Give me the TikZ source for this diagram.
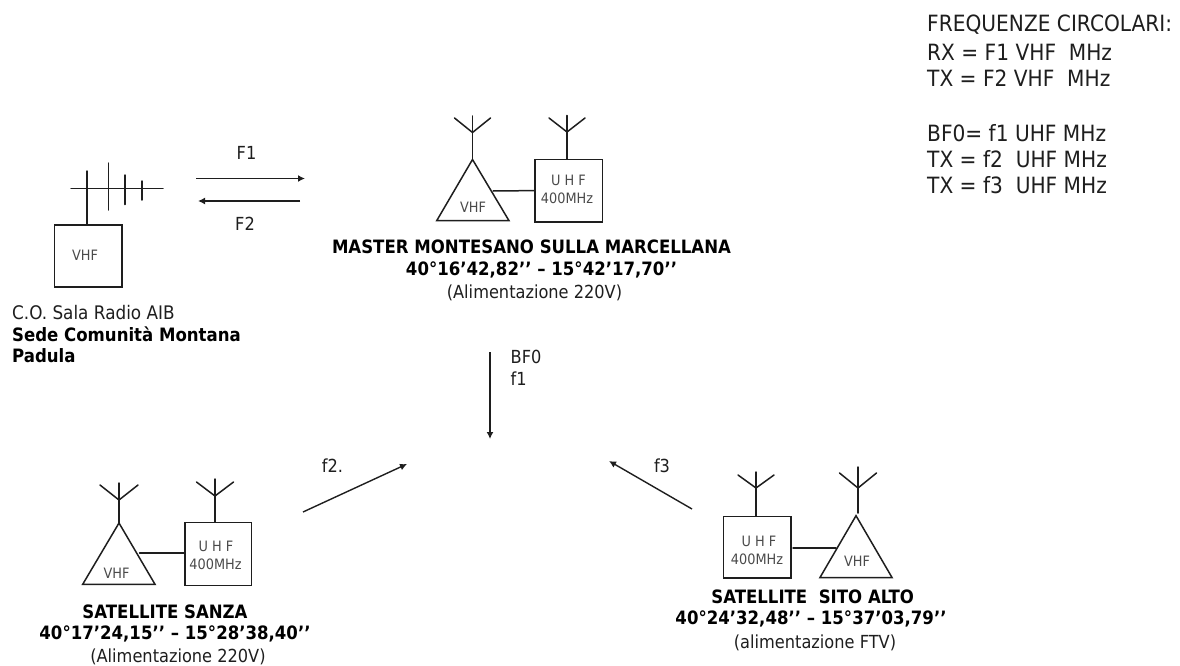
\documentclass[tikz,border=0pt]{standalone}
\usepackage{fontspec}
\setmainfont[FakeStretch=0.9]{DejaVu Sans}
\usetikzlibrary{arrows.meta}
\definecolor{ink}{HTML}{1E1E1E}
\definecolor{small}{HTML}{4A4A4A}
\tikzset{
 x=1pt,y=-1pt,
 wire/.style={draw=ink,line width=1.5pt,line cap=round,line join=miter},
 radiobox/.style={draw=ink,line width=1.5pt,rectangle,inner sep=0pt,anchor=north west},
 flow/.style={draw=ink,line width=1.4pt,-{Latex[length=7pt,width=7pt]}},
 lab/.style={font=\fontsize{18}{20}\selectfont,text=ink,inner sep=0pt},
 sm/.style={font=\fontsize{14.3}{16}\selectfont,text=small,inner sep=0pt},
 ttl/.style={font=\fontsize{18.4}{20}\selectfont\bfseries,text=black,inner sep=0pt},
 note/.style={font=\fontsize{18}{20}\selectfont,text=ink,inner sep=0pt},
 freq/.style={font=\fontsize{22.4}{24}\selectfont,text=ink,inner sep=0pt,anchor=west},
}
\newcommand{\fork}[6]{% name, mastx, top, forky, armx half, armtop
 \coordinate (#1top) at (#2,#3);
 \coordinate (#1fork) at (#2,#4);
 \coordinate (#1l) at (#2-#5,#6);
 \coordinate (#1r) at (#2+#5,#6);
 \draw[wire] (#1l)--(#1fork)--(#1r);
}
\begin{document}
\begin{tikzpicture}
\useasboundingbox (0,0) rectangle (1180,666);
% Sala radio
\node[radiobox,minimum width=67.5pt,minimum height=62pt] (cobox) at (53.5,224) {};
\node[sm] (covhf) at (85,255.5) {VHF};
\coordinate (yagiL) at (71,188.3); \coordinate (yagiR) at (163,188.3);
\coordinate (yagiT) at (87,171);
\draw[wire] (yagiL)--(yagiR);
\draw[wire] (yagiT)--(yagiT|-cobox.north);
\coordinate (e1a) at (108.5,163); \coordinate (e1b) at (108.5,210);
\coordinate (e2a) at (125,175); \coordinate (e2b) at (125,204.5);
\coordinate (e3a) at (142,181); \coordinate (e3b) at (142,200);
\draw[wire] (e1a)--(e1b); \draw[wire] (e2a)--(e2b); \draw[wire] (e3a)--(e3b);
\node[lab,anchor=west,font=\fontsize{18.7}{20}\selectfont] (co1) at (12,312.5) {C.O. Sala Radio AIB};
\node[ttl,anchor=west] (co2) at (12,334) {Sede Comunità Montana};
\node[ttl,anchor=west] (co3) at (12,356) {Padula};
% F1 F2
\coordinate (f1a) at (196,178.5); \coordinate (f1b) at (305,178.5);
\coordinate (f2a) at (300,201); \coordinate (f2b) at (198,201);
\draw[flow] (f1a)--(f1b); \draw[flow] (f2a)--(f2b);
\node[lab] (lf1) at (246.5,153) {F1};
\node[lab] (lf2) at (245,224) {F2};
% Master
\coordinate (mA) at (472.5,159.5); \coordinate (mB) at (509,220.7); \coordinate (mC) at (436.7,220.7);
\draw[wire,line cap=butt] (mA)--(mB)--(mC)--cycle;
\node[sm] (mv) at (473,207) {VHF};
\node[radiobox,minimum width=67.7pt,minimum height=62.3pt] (mbox) at (534,158.7) {};
\node[sm] (mu) at (568.5,180.5) {U H F};
\node[sm] (mm) at (567,198) {400MHz};
\fork{ma}{472.5}{116}{132.5}{18}{118}
\fork{mb}{567}{115.5}{132}{18}{118}
\draw[wire] (mA)--(matop);
\draw[wire] (mbtop)--(mbtop|-mbox.north);
\coordinate (mlink) at (493,191);
\draw[wire] (mlink)--(mbox.west);
\node[ttl] (mt1) at (531.5,247) {MASTER MONTESANO SULLA MARCELLANA};
\node[ttl] (mt2) at (541.5,270) {40°16’42,82’’ – 15°42’17,70’’};
\node[note] (mt3) at (534.5,292.5) {(Alimentazione 220V)};
% Central
\coordinate (da) at (490,352); \coordinate (db) at (490,439);
\draw[flow] (da)--(db);
\node[lab,anchor=west] (bf) at (510.5,357) {BF0};
\node[lab,anchor=west] (lf1b) at (510.5,379) {f1};
\coordinate (sa) at (303,512); \coordinate (sb) at (407,464);
\draw[flow] (sa)--(sb);
\node[lab] (lf2b) at (332.5,466) {f2.};
\coordinate (ta) at (692,509); \coordinate (tb) at (609,461);
\draw[flow] (ta)--(tb);
\node[lab] (lf3) at (662,466) {f3};
% Sanza
\coordinate (sA) at (119,523); \coordinate (sB) at (155,584.3); \coordinate (sC) at (82.7,584.3);
\draw[wire,line cap=butt] (sA)--(sB)--(sC)--cycle;
\node[sm] (sv) at (116.5,573) {VHF};
\node[radiobox,minimum width=66.7pt,minimum height=63pt] (sbox) at (184,521.7) {};
\node[sm] (su) at (216,546.5) {U H F};
\node[sm] (sm) at (215.5,564.5) {400MHz};
\fork{sl}{119}{483}{500}{19}{485}
\fork{sr}{215}{479}{496}{18.5}{482}
\draw[wire] (sA)--(sltop);
\draw[wire] (srtop)--(srtop|-sbox.north);
\coordinate (slink) at (139.5,553);
\draw[wire] (slink)--(slink-|sbox.west);
\node[ttl] (st1) at (165,611.7) {SATELLITE SANZA};
\node[ttl] (st2) at (175,634) {40°17’24,15’’ – 15°28’38,40’’};
\node[note] (st3) at (178,656.5) {(Alimentazione 220V)};
% Sito Alto
\node[radiobox,minimum width=67.3pt,minimum height=61.6pt] (abox) at (722.7,515.7) {};
\node[sm] (au) at (759,541) {U H F};
\node[sm] (am) at (757,559) {400MHz};
\coordinate (aA) at (856,515.7); \coordinate (aB) at (892,577.5); \coordinate (aC) at (820,577.5);
\draw[wire,line cap=butt] (aA)--(aB)--(aC)--cycle;
\node[sm] (av) at (857,561) {VHF};
\fork{al}{756}{472}{488}{18}{475}
\fork{ar}{858}{467}{488}{18.5}{473}
\draw[wire] (altop)--(altop|-abox.north);
\draw[wire] (artop)--(858,513);
\coordinate (alink1) at (793,548); \coordinate (alink2) at (836,548);
\draw[wire] (alink1)--(alink2);
\node[ttl] (at1) at (812.7,596.7) {SATELLITE\ \ SITO ALTO};
\node[ttl] (at2) at (811,619) {40°24’32,48’’ – 15°37’03,79’’};
\node[note] (at3) at (815,642.5) {(alimentazione FTV)};
% Frequenze
\node[freq] (q1) at (927,25) {FREQUENZE CIRCOLARI:};
\node[freq] (q2) at (927,52) {RX = F1 VHF\ \ MHz};
\node[freq] (q3) at (927,78) {TX = F2 VHF\ \ MHz};
\node[freq] (q4) at (927,133) {BF0= f1 UHF MHz};
\node[freq] (q5) at (927,159) {TX = f2\ \ UHF MHz};
\node[freq] (q6) at (927,185) {TX = f3\ \ UHF MHz};
\end{tikzpicture}
\end{document}
